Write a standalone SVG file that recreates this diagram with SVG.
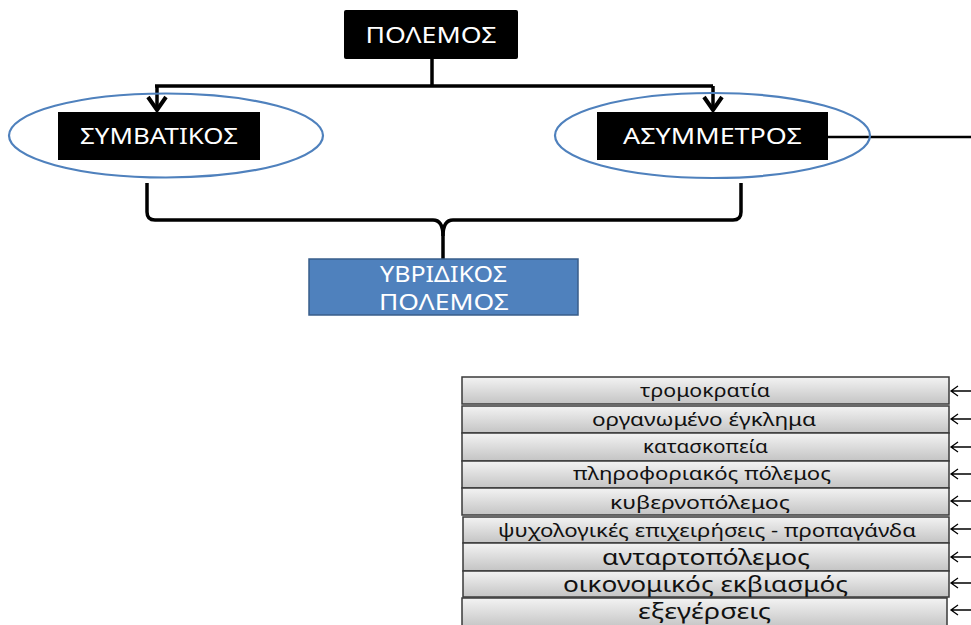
<svg xmlns="http://www.w3.org/2000/svg" width="971" height="625" viewBox="0 0 971 625">
<style>
.blk{fill:#000000;}
.wt{fill:#ffffff;font-family:"Noto Sans","Open Sans",sans-serif;text-anchor:middle;}
.ell{fill:none;stroke:#4f81bd;stroke-width:2.2;}
.con{fill:none;stroke:#000000;stroke-width:3.5;}
.row{fill:url(#g);stroke:#3a3a3a;stroke-width:1.5;}
.rt{fill:#111111;font-family:"Noto Sans","Open Sans",sans-serif;text-anchor:middle;}
.s{font-size:17.5px;}
.l{font-size:21px;}
.arr{fill:none;stroke:#000000;stroke-width:1.3;}
</style>
<defs>
<linearGradient id="g" x1="0" y1="0" x2="0" y2="1">
<stop offset="0" stop-color="#f3f3f3"/>
<stop offset="1" stop-color="#c4c4c4"/>
</linearGradient>
</defs>

<g id="connectors">
<path class="con" d="M432,59 L432,86"/>
<path class="con" d="M155,86 L713,86"/>
<path class="con" d="M157,86 L157,110"/>
<path class="con" d="M713,86 L713,110"/>
<path d="M148,97 L157,110 L166,97" fill="none" stroke="#000" stroke-width="4"/>
<path d="M704,97 L713,110 L722,97" fill="none" stroke="#000" stroke-width="4"/>
<path d="M828,137 L971,137" fill="none" stroke="#000" stroke-width="2.5"/>
<path class="con" d="M147,183 L147,212 Q147,220 155,220 L433,220 Q443,220 443,236 L443,259"/>
<path class="con" d="M741,183 L741,212 Q741,220 733,220 L453,220 Q443,220 443,236"/>
<g class="arr">
<path d="M971,391 L951,391 M958,386 L951,391 L958,396"/>
<path d="M971,419 L951,419 M958,414 L951,419 L958,424"/>
<path d="M971,447 L951,447 M958,442 L951,447 L958,452"/>
<path d="M971,474 L951,474 M958,469 L951,474 L958,479"/>
<path d="M971,501 L951,501 M958,496 L951,501 L958,506"/>
<path d="M971,529 L951,529 M958,524 L951,529 L958,534"/>
<path d="M971,557 L951,557 M958,552 L951,557 L958,562"/>
<path d="M971,583 L951,583 M958,578 L951,583 L958,588"/>
<path d="M971,610 L951,610 M958,605 L951,610 L958,615"/>
</g>
</g>

<g id="polemos">
<rect class="blk" x="344" y="10" width="174" height="49" rx="2"/>
<text class="wt" x="431" y="43" font-size="21" textLength="131" lengthAdjust="spacingAndGlyphs">ΠΟΛΕΜΟΣ</text>
</g>

<g id="symvatikos">
<ellipse class="ell" cx="166" cy="135.5" rx="157" ry="42"/>
<rect class="blk" x="58" y="112" width="202" height="48"/>
<text class="wt" x="159" y="144" font-size="22" textLength="158" lengthAdjust="spacingAndGlyphs">ΣΥΜΒΑΤΙΚΟΣ</text>
</g>

<g id="asymmetros">
<ellipse class="ell" cx="712.5" cy="135.5" rx="157.5" ry="42.5"/>
<rect class="blk" x="597" y="112" width="231" height="48"/>
<text class="wt" x="712.5" y="144" font-size="22" textLength="179" lengthAdjust="spacingAndGlyphs">ΑΣΥΜΜΕΤΡΟΣ</text>
</g>

<g id="yvridikos">
<rect x="309" y="259" width="269" height="56" fill="#4f81bd" stroke="#385d8a" stroke-width="1.5"/>
<text class="wt" x="443.5" y="282" font-size="22" textLength="127" lengthAdjust="spacingAndGlyphs">ΥΒΡΙΔΙΚΟΣ</text>
<text class="wt" x="444" y="310" font-size="22" textLength="130" lengthAdjust="spacingAndGlyphs">ΠΟΛΕΜΟΣ</text>
</g>

<g id="row1"><rect class="row" x="462" y="377" width="487" height="27"/><text class="rt s" x="705" y="397" textLength="130" lengthAdjust="spacingAndGlyphs">τρομοκρατία</text></g>
<g id="row2"><rect class="row" x="462" y="406" width="487" height="27"/><text class="rt s" x="704" y="426" textLength="224" lengthAdjust="spacingAndGlyphs">οργανωμένο έγκλημα</text></g>
<g id="row3"><rect class="row" x="462" y="433" width="487" height="28"/><text class="rt s" x="705.5" y="453" textLength="125" lengthAdjust="spacingAndGlyphs">κατασκοπεία</text></g>
<g id="row4"><rect class="row" x="462" y="461" width="487" height="27"/><text class="rt s" x="702" y="480" textLength="258" lengthAdjust="spacingAndGlyphs">πληροφοριακός πόλεμος</text></g>
<g id="row5"><rect class="row" x="462" y="488" width="487" height="27"/><text class="rt s" x="700" y="509" textLength="180" lengthAdjust="spacingAndGlyphs">κυβερνοπόλεμος</text></g>
<g id="row6"><rect class="row" x="463" y="517" width="486" height="26"/><text class="rt s" x="707" y="537" textLength="418" lengthAdjust="spacingAndGlyphs">ψυχολογικές επιχειρήσεις - προπαγάνδα</text></g>
<g id="row7"><rect class="row" x="463" y="543" width="486" height="28"/><text class="rt l" x="706" y="565" textLength="208" lengthAdjust="spacingAndGlyphs">ανταρτοπόλεμος</text></g>
<g id="row8"><rect class="row" x="463" y="571" width="486" height="26"/><text class="rt l" x="705.5" y="592" textLength="285" lengthAdjust="spacingAndGlyphs">οικονομικός εκβιασμός</text></g>
<g id="row9"><rect class="row" x="462" y="598" width="485" height="30"/><text class="rt l" x="704.5" y="619" textLength="133" lengthAdjust="spacingAndGlyphs">εξεγέρσεις</text></g>
</svg>
